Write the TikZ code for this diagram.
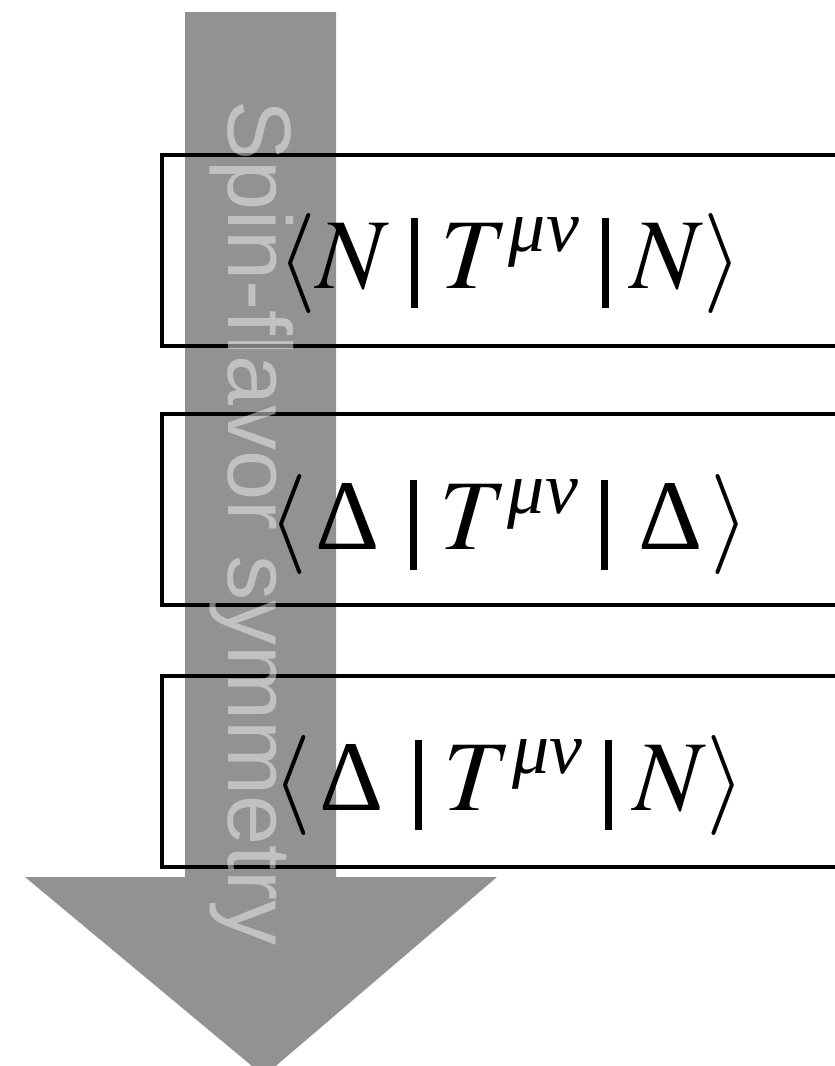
\documentclass[tikz,border=0pt]{standalone}
\usepackage{mathptmx}
\usepackage{fontspec}
\newfontfamily\labelsans{Liberation Sans}
\newfontfamily\serifgreek{Liberation Serif}
\definecolor{arrowgray}{HTML}{929292}
\definecolor{labelgray}{HTML}{F0F0F0}
\newcommand\thickbar{\mathrel{\vrule width 7pt height 70pt depth 20pt}}
\newcommand\munu{\mbox{\serifgreek\itshape\fontsize{74}{74}\selectfont μν}}
\newcommand\bigDelta{\mkern1.5mu\mbox{\serifgreek Δ}\mkern1.5mu}
\tikzset{
  statebox/.style={draw=black, line width=4pt, minimum width=700pt, minimum height=191pt, inner sep=0pt},
  eqtext/.style={font=\fontsize{100}{110}\selectfont, inner sep=0pt, anchor=base},
}
\begin{document}
\begin{tikzpicture}[x=1pt,y=-1pt]
\useasboundingbox (0,0) rectangle (835,1066);
\clip (0,0) rectangle (835,1066);
% big arrow
\fill[arrowgray] (185,12) -- (336,12) -- (336,877) -- (497,877) -- (264,1076) -- (25,877) -- (185,877) -- cycle;
% boxes
\node[statebox] (b1) at (512,250) {};
\node[statebox] (b2) at (512,509.5) {};
\node[statebox] (b3) at (512,771) {};
% equations
\node[eqtext] (e1) at ([xshift=-2pt,yshift=-38pt]b1.center) {$\langle N \thickbar T^{\munu} \thickbar N\rangle$};
\node[eqtext] (e2) at ([xshift=-3pt,yshift=-40pt]b2.center) {$\langle \bigDelta \thickbar T^{\munu} \thickbar \bigDelta\rangle$};
\node[eqtext] (e3) at ([xshift=-3pt,yshift=-39pt]b3.center) {$\langle \bigDelta \thickbar T^{\munu} \thickbar N\rangle$};
% rotated label
\node[rotate=-90, anchor=base west, inner sep=0pt, text=labelgray, text opacity=0.5,
      font=\labelsans\fontsize{90}{92}\selectfont] (lbl) at (228,100) {Spin-flavor symmetry};
\end{tikzpicture}
\end{document}
